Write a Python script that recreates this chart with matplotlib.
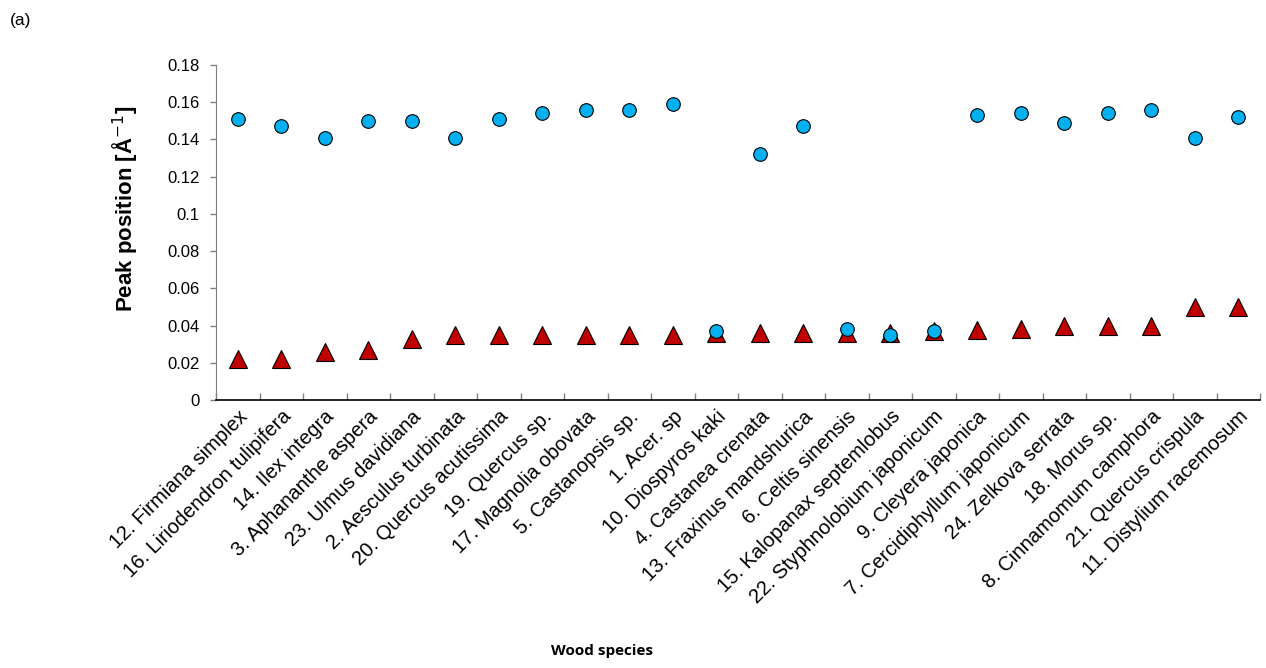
import matplotlib
matplotlib.use("Agg")
import matplotlib.pyplot as plt
import numpy as np

species = [
    "12. Firmiana simplex",
    "16. Liriodendron tulipifera",
    "14. Ilex integra",
    "3. Aphananthe aspera",
    "23. Ulmus davidiana",
    "2. Aesculus turbinata",
    "20. Quercus acutissima",
    "19. Quercus sp.",
    "17. Magnolia obovata",
    "5. Castanopsis sp.",
    "1. Acer. sp",
    "10. Diospyros kaki",
    "4. Castanea crenata",
    "13. Fraxinus mandshurica",
    "6. Celtis sinensis",
    "15. Kalopanax septemlobus",
    "22. Styphnolobium japonicum",
    "9. Cleyera japonica",
    "7. Cercidiphyllum japonicum",
    "24. Zelkova serrata",
    "18. Morus sp.",
    "8. Cinnamomum camphora",
    "21. Quercus crispula",
    "11. Distylium racemosum",
]

circle_peak = [0.151, 0.147, 0.141, 0.150, 0.150, 0.141, 0.151, 0.154, 0.156, 0.156,
               0.159, 0.037, 0.132, 0.147, 0.038, 0.035, 0.037, 0.153, 0.154, 0.149,
               0.154, 0.156, 0.141, 0.152]

triangle_peak = [0.022, 0.022, 0.026, 0.027, 0.033, 0.035, 0.035, 0.035, 0.035, 0.035,
                 0.035, 0.036, 0.036, 0.036, 0.036, 0.036, 0.037, 0.0375, 0.038, 0.040,
                 0.040, 0.040, 0.050, 0.050]

yticks = [0, 0.02, 0.04, 0.06, 0.08, 0.1, 0.12, 0.14, 0.16, 0.18]
ytick_labels = ["0", "0.02", "0.04", "0.06", "0.08", "0.1", "0.12", "0.14", "0.16", "0.18"]

plt.rcParams['font.family'] = ['Liberation Sans', 'DejaVu Sans']

fig = plt.figure(figsize=(12.66, 6.68), dpi=100)
ax = fig.add_axes([216/1266, 1-400/668, (1260-216)/1266, (400-65)/668])

x = np.arange(len(species)) + 0.5
ax.plot(x, triangle_peak, linestyle='none', marker='^', markersize=13,
        markerfacecolor='#C00000', markeredgecolor='black', markeredgewidth=0.8, zorder=3)
ax.plot(x, circle_peak, linestyle='none', marker='o', markersize=9.8,
        markerfacecolor='#00B0F0', markeredgecolor='black', markeredgewidth=0.8, zorder=4)

ax.set_xlim(0, len(species))
ax.set_ylim(0, 0.18)

ax.set_yticks(yticks)
ax.set_yticklabels(ytick_labels, fontsize=12)
ax.tick_params(axis='y', direction='out', length=4, width=1, color='#808080', pad=8)

# x ticks at category boundaries (inward), labels centered on categories
ax.set_xticks(np.arange(len(species) + 1))
ax.set_xticklabels([])
ax.tick_params(axis='x', which='major', direction='in', length=5, width=1, color='#808080')
ax.set_xticks(x, minor=True)
ax.set_xticklabels(species, minor=True, rotation=45, ha='right', va='top',
                   rotation_mode='anchor', fontsize=14.5)
ax.tick_params(axis='x', which='minor', length=0, pad=5)

for s in ['top', 'right']:
    ax.spines[s].set_visible(False)
ax.spines['left'].set_color('#808080')
ax.spines['bottom'].set_color('black')
ax.spines['bottom'].set_linewidth(1.2)

fig.text(125/1266, 1-209/668, "Peak position [Å$^{-1}$]", rotation=90,
         ha='center', va='center', fontsize=16, fontweight='bold')
fig.text(602/1266, 1-651/668, "Wood species", ha='center', va='center',
         fontsize=11, fontweight='bold', family=['Open Sans', 'DejaVu Sans'])
fig.text(10/1266, 1-20/668, "(a)", ha='left', va='center', fontsize=12.5)

fig.savefig("out.png", dpi=100)
